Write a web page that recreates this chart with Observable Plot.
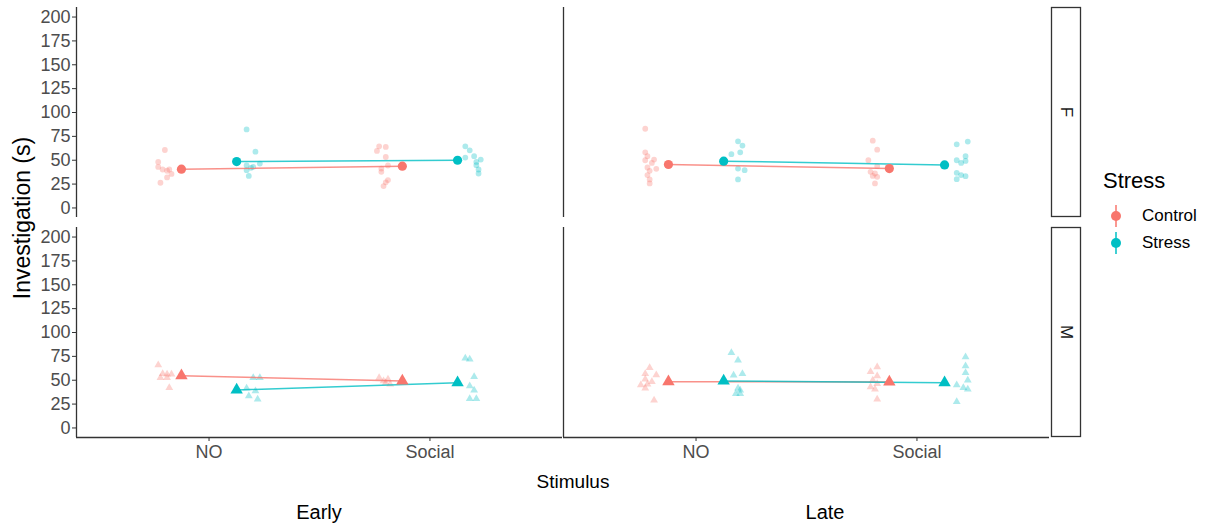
<!DOCTYPE html>
<html><head><meta charset="utf-8">
<script src="https://cdn.jsdelivr.net/npm/d3@7"></script>
<script src="https://cdn.jsdelivr.net/npm/@observablehq/plot@0.6"></script>
<style>
body{margin:0;background:#fff;font-family:"Liberation Sans",Arial,Helvetica,sans-serif;}
#wrap{position:relative;width:1217px;height:529px;overflow:hidden;background:#fff;}
.lbl{position:absolute;white-space:nowrap;color:#000;transform:translate(-50%,-50%);line-height:1;}
</style></head><body><div id="wrap"></div>
<script>
// ---------- data ----------
const times = ["Early", "Late"];
const sexes = ["F", "M"];
const stimuli = ["NO", "Social"];
const stressLevels = ["Control", "Stress"];
const stressColors = ["#F8766D", "#00BFC4"];
const yTicks = [0, 25, 50, 75, 100, 125, 150, 175, 200];

// group means, order: NO-Control, NO-Stress, Social-Control, Social-Stress
const meanEarlyF = [40.6, 48.6, 43.8, 50.0];
const meanLateF  = [45.5, 49.0, 41.3, 45.1];
const meanEarlyM = [54.8, 39.8, 49.2, 47.4];
const meanLateM  = [48.5, 49.2, 48.2, 47.4];

// individual animals: [stimulus, stress, investigation (s), horizontal jitter]
const rawEarlyF = [
  ["NO","Control",60.7,-0.20],["NO","Control",48.2,-0.23],["NO","Control",43.0,-0.23],["NO","Control",40.3,-0.21],
  ["NO","Control",40.3,-0.18],["NO","Control",35.7,-0.17],["NO","Control",32.0,-0.19],["NO","Control",26.4,-0.22],["NO","Control",39.0,-0.19],
  ["NO","Stress",82.3,0.17],["NO","Stress",59.0,0.21],["NO","Stress",46.5,0.23],["NO","Stress",44.5,0.17],
  ["NO","Stress",43.0,0.20],["NO","Stress",39.6,0.17],["NO","Stress",33.6,0.18],["NO","Stress",42.0,0.19],
  ["Social","Control",64.6,-0.23],["Social","Control",63.9,-0.20],["Social","Control",59.7,-0.24],["Social","Control",53.4,-0.20],
  ["Social","Control",44.5,-0.19],["Social","Control",41.3,-0.22],["Social","Control",37.8,-0.22],["Social","Control",29.2,-0.19],
  ["Social","Control",22.9,-0.21],["Social","Control",26.8,-0.20],
  ["Social","Stress",64.6,0.16],["Social","Stress",60.4,0.18],["Social","Stress",52.8,0.16],["Social","Stress",54.2,0.20],
  ["Social","Stress",50.7,0.23],["Social","Stress",44.8,0.21],["Social","Stress",40.3,0.22],["Social","Stress",36.1,0.22],["Social","Stress",48.2,0.21]
];
const rawLateF = [
  ["NO","Control",83.0,-0.23],["NO","Control",58.3,-0.23],["NO","Control",54.2,-0.22],["NO","Control",50.7,-0.19],
  ["NO","Control",50.0,-0.23],["NO","Control",47.2,-0.20],["NO","Control",42.4,-0.22],["NO","Control",41.0,-0.18],
  ["NO","Control",38.9,-0.21],["NO","Control",34.4,-0.22],["NO","Control",29.9,-0.21],["NO","Control",25.7,-0.21],
  ["NO","Stress",69.8,0.19],["NO","Stress",65.3,0.21],["NO","Stress",56.3,0.16],["NO","Stress",58.3,0.20],
  ["NO","Stress",41.3,0.19],["NO","Stress",39.6,0.22],["NO","Stress",29.9,0.19],
  ["Social","Control",70.5,-0.20],["Social","Control",61.1,-0.18],["Social","Control",50.0,-0.22],["Social","Control",43.8,-0.18],
  ["Social","Control",37.8,-0.21],["Social","Control",36.1,-0.19],["Social","Control",32.6,-0.18],["Social","Control",33.6,-0.20],["Social","Control",25.7,-0.19],
  ["Social","Stress",66.7,0.18],["Social","Stress",69.5,0.23],["Social","Stress",54.2,0.22],["Social","Stress",50.0,0.18],
  ["Social","Stress",49.3,0.22],["Social","Stress",47.2,0.20],["Social","Stress",36.8,0.18],["Social","Stress",34.4,0.20],
  ["Social","Stress",33.3,0.22],["Social","Stress",30.2,0.18]
];
const rawEarlyM = [
  ["NO","Control",66.0,-0.23],["NO","Control",56.9,-0.21],["NO","Control",56.2,-0.19],["NO","Control",56.2,-0.17],
  ["NO","Control",52.7,-0.22],["NO","Control",52.7,-0.19],["NO","Control",42.2,-0.18],
  ["NO","Stress",52.7,0.20],["NO","Stress",52.7,0.23],["NO","Stress",41.6,0.17],["NO","Stress",38.7,0.21],
  ["NO","Stress",33.5,0.18],["NO","Stress",30.0,0.22],
  ["Social","Control",52.7,-0.23],["Social","Control",51.0,-0.19],["Social","Control",49.2,-0.21],["Social","Control",45.8,-0.18],["Social","Control",47.4,-0.20],
  ["Social","Stress",73.0,0.16],["Social","Stress",72.0,0.18],["Social","Stress",53.7,0.20],["Social","Stress",44.0,0.18],
  ["Social","Stress",39.5,0.20],["Social","Stress",30.7,0.18],["Social","Stress",30.7,0.21]
];
const rawLateM = [
  ["NO","Control",63.1,-0.21],["NO","Control",56.9,-0.23],["NO","Control",55.5,-0.18],["NO","Control",51.0,-0.23],
  ["NO","Control",48.5,-0.20],["NO","Control",45.8,-0.22],["NO","Control",45.0,-0.25],["NO","Control",41.6,-0.23],["NO","Control",29.0,-0.19],
  ["NO","Stress",78.8,0.16],["NO","Stress",70.9,0.19],["NO","Stress",55.2,0.17],["NO","Stress",56.9,0.21],
  ["NO","Stress",41.6,0.19],["NO","Stress",39.5,0.20],["NO","Stress",35.9,0.18],["NO","Stress",35.9,0.20],
  ["Social","Control",63.9,-0.18],["Social","Control",59.0,-0.21],["Social","Control",54.5,-0.18],["Social","Control",50.0,-0.20],
  ["Social","Control",46.4,-0.18],["Social","Control",42.9,-0.21],["Social","Control",40.5,-0.19],["Social","Control",30.0,-0.18],
  ["Social","Stress",74.3,0.22],["Social","Stress",64.9,0.22],["Social","Stress",57.9,0.22],["Social","Stress",50.0,0.23],
  ["Social","Stress",45.0,0.18],["Social","Stress",42.2,0.21],["Social","Stress",40.5,0.23],["Social","Stress",27.5,0.18]
];

// ---------- build tables ----------
const conds = [["NO","Control"],["NO","Stress"],["Social","Control"],["Social","Stress"]];
const means = [];
[["Early","F",meanEarlyF],["Late","F",meanLateF],["Early","M",meanEarlyM],["Late","M",meanLateM]]
  .forEach(([time, sex, vals]) => vals.forEach((v, i) =>
    means.push({time, sex, stimulus: conds[i][0], stress: conds[i][1], value: v})));
const raw = [];
[["Early","F",rawEarlyF],["Late","F",rawLateF],["Early","M",rawEarlyM],["Late","M",rawLateM]]
  .forEach(([time, sex, rows]) => rows.forEach(([stimulus, stress, value, jitter]) =>
    raw.push({time, sex, stimulus, stress, value, jitter})));

const xDomain = [0.4, 2.6];
const yDomain = [-10, 210];
const dodge = 0.125;
const sx = d => stimuli.indexOf(d.stimulus) + 1;
const mx = d => sx(d) + (d.stress === "Control" ? -dodge : dodge);

const W = 1217, H = 529, mL = 76, mR = 167, mT = 7, mB = 92;
const fxPad = 0.002, fyPad = 0.0455;

const plot = Plot.plot({
  width: W, height: H,
  marginLeft: mL, marginRight: mR, marginTop: mT, marginBottom: mB,
  style: {fontFamily: '"Liberation Sans", Arial, sans-serif', background: "white", overflow: "visible"},
  fx: {domain: times, paddingInner: fxPad, paddingOuter: 0, axis: null, label: null},
  fy: {domain: sexes, paddingInner: fyPad, paddingOuter: 0, axis: null, label: null},
  x: {domain: xDomain, label: null},
  y: {domain: yDomain, label: null},
  color: {domain: stressLevels, range: stressColors},
  symbol: {domain: sexes, range: ["circle", "triangle"]},
  marks: [
    Plot.ruleX([xDomain[0]], {stroke: "#333", strokeWidth: 1.3}),
    Plot.ruleY([{sex: "M"}], {y: () => yDomain[0], fy: "sex", stroke: "#333", strokeWidth: 1.3}),
    Plot.axisY({ticks: yTicks, tickSize: 4, tickPadding: 2, fontSize: 18, label: null, fill: "#4d4d4d", stroke: "#333"}),
    Plot.axisX({ticks: [1, 2], tickFormat: d => stimuli[d - 1], tickSize: 4, tickPadding: 4, fontSize: 18, label: null, fill: "#4d4d4d", stroke: "#333"}),
    Plot.dot(raw, {fx: "time", fy: "sex", x: d => sx(d) + d.jitter, y: "value", fill: "stress", symbol: "sex", r: 2.9, fillOpacity: 0.32}),
    Plot.line(means.filter(d => d.stress === "Control"), {fx: "time", fy: "sex", x: mx, y: "value", stroke: "stress", strokeWidth: 1.5, strokeOpacity: 0.8}),
    Plot.line(means.filter(d => d.stress === "Stress"), {fx: "time", fy: "sex", x: mx, y: "value", stroke: "stress", strokeWidth: 1.5, strokeOpacity: 0.8}),
    Plot.dot(means, {fx: "time", fy: "sex", x: mx, y: "value", fill: "stress", symbol: "sex", r: 4.6})
  ]
});

const wrap = document.getElementById("wrap");
wrap.appendChild(plot);

// facet strips (right side) for F / M
const fyBand = d3.scaleBand().domain(sexes).range([mT, H - mB]).paddingInner(fyPad).paddingOuter(0);
const svg = d3.select(plot);
const sx0 = W - mR + 1.5, sw = 29;
sexes.forEach(s => {
  const y0 = fyBand(s), bh = fyBand.bandwidth();
  svg.append("rect").attr("x", sx0).attr("y", y0 + 0.5).attr("width", sw).attr("height", bh - 1)
    .attr("fill", "white").attr("stroke", "#333").attr("stroke-width", 1.3);
  const cx = sx0 + sw / 2, cy = y0 + bh / 2;
  svg.append("text").attr("x", cx).attr("y", cy).attr("transform", `rotate(90 ${cx} ${cy})`)
    .attr("text-anchor", "middle").attr("dominant-baseline", "central")
    .attr("font-size", 17).attr("fill", "#1a1a1a").text(s);
});

// overlays: axis titles, column labels, legend
function label(text, x, y, size, extra = "") {
  const d = document.createElement("div");
  d.className = "lbl";
  d.style.left = x + "px"; d.style.top = y + "px"; d.style.fontSize = size + "px";
  d.style.cssText += extra;
  d.textContent = text;
  wrap.appendChild(d);
}
label("Investigation (s)", 22, 218, 23, "transform:translate(-50%,-50%) rotate(-90deg);");
label("Stimulus", 573, 481, 19);
const fxCenters = [319, 825];
times.forEach((t, i) => label(t, fxCenters[i], 512, 20));

const leg = document.createElement("div");
leg.style.cssText = "position:absolute;left:1103px;top:168px;color:#000;";
leg.innerHTML = `<div style="font-size:22px;line-height:26px;margin-bottom:8px;">Stress</div>` +
  stressLevels.map((s, i) => `<div style="display:flex;align-items:center;height:27px;">
    <svg width="28" height="26" style="margin-left:3px"><line x1="10" x2="10" y1="2" y2="24" stroke="${stressColors[i]}" stroke-width="1.5"/><circle cx="10" cy="13" r="5" fill="${stressColors[i]}"/></svg>
    <span style="font-size:17px;margin-left:8px">${s}</span></div>`).join("");
wrap.appendChild(leg);
</script></body></html>
